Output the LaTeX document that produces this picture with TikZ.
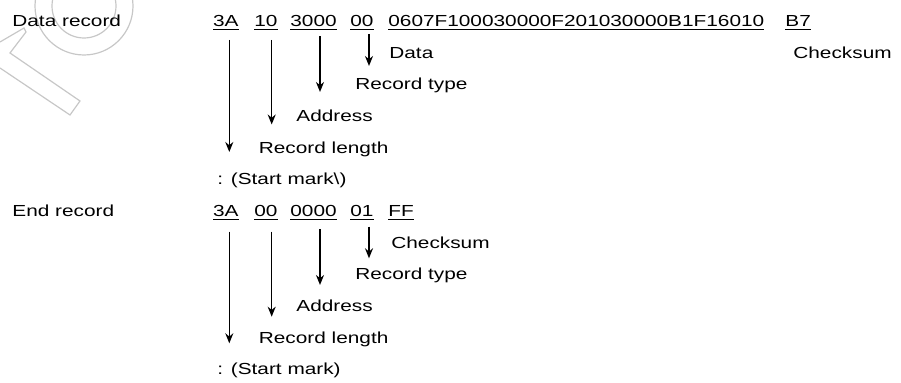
\documentclass[tikz,border=0pt]{standalone}
\usepackage{fontspec}
\setmainfont{Liberation Sans}[FakeStretch=1.3]
\usetikzlibrary{arrows.meta}

\begin{document}
\begin{tikzpicture}[x=0.5pt,y=-0.5pt,
    every node/.style={inner sep=0pt,anchor=base west,font=\fontsize{8}{10}\selectfont},
    arr/.style={line width=0.7pt,-{Stealth[length=5pt,width=4pt]}},
    wmark/.style={draw=black!22,line width=0.6pt}]

    \useasboundingbox (0,0) rectangle (901,383);

    % faint watermark in the corner
    \begin{scope}
        \clip (0,0) rectangle (901,383);
        \draw[wmark] (84,6) circle[radius=49];
        \draw[wmark] (84,6) circle[radius=32];
        \draw[wmark] (0,42) -- (24,28) -- (26,32) -- (10,53) -- (80,101) -- (70,115) -- (0,68);
    \end{scope}

    % data record
    \node (dataRec) at (12,26.5) {Data record};
    \node (d3A) at (212.7,26.5) {\underline{3A}};
    \node (d10) at (254,26.5) {\underline{10}};
    \node (d3000) at (290,26.5) {\underline{3000}};
    \node (d00) at (350,26.5) {\underline{00}};
    \node (dData) at (388,26.5) {\underline{0607F100030000F201030000B1F16010}};
    \node (dB7) at (785,26.5) {\underline{B7}};
    \node (dLblData) at (389,58.2) {Data};
    \node (dLblSum) at (793,58.2) {Checksum};
    \node (dLblType) at (355,89.8) {Record type};
    \node (dLblAddr) at (296,121.5) {Address};
    \node (dLblLen) at (258.5,153.2) {Record length};
    \node (dLblStart) at (217,184.8) {: (Start mark\textbackslash)};

    \coordinate (dTop1) at (229.3,40);
    \coordinate (dTip1) at (229.3,152);
    \coordinate (dTop2) at (271.7,40);
    \coordinate (dTip2) at (271.7,124.5);
    \coordinate (dTop3) at (320,36.5);
    \coordinate (dTip3) at (320,92);
    \coordinate (dTop4) at (369,34);
    \coordinate (dTip4) at (369,66);
    \draw[arr] (dTop1) -- (dTip1);
    \draw[arr] (dTop2) -- (dTip2);
    \draw[arr] (dTop3) -- (dTip3);
    \draw[arr] (dTop4) -- (dTip4);

    % end record
    \node (endRec) at (12,216.5) {End record};
    \node (e3A) at (212.7,216.5) {\underline{3A}};
    \node (e00) at (254,216.5) {\underline{00}};
    \node (e0000) at (290,216.5) {\underline{0000}};
    \node (e01) at (350,216.5) {\underline{01}};
    \node (eFF) at (388,216.5) {\underline{FF}};
    \node (eLblSum) at (391,248.2) {Checksum};
    \node (eLblType) at (355,279.8) {Record type};
    \node (eLblAddr) at (296,311.5) {Address};
    \node (eLblLen) at (258.5,343.2) {Record length};
    \node (eLblStart) at (217,374.8) {: (Start mark)};

    \coordinate (eTop1) at (229.3,231.7);
    \coordinate (eTip1) at (229.3,343.3);
    \coordinate (eTop2) at (271.7,231.7);
    \coordinate (eTip2) at (271.7,316.7);
    \coordinate (eTop3) at (320,229.3);
    \coordinate (eTip3) at (320,285);
    \coordinate (eTop4) at (369,226.7);
    \coordinate (eTip4) at (369,258.3);
    \draw[arr] (eTop1) -- (eTip1);
    \draw[arr] (eTop2) -- (eTip2);
    \draw[arr] (eTop3) -- (eTip3);
    \draw[arr] (eTop4) -- (eTip4);
\end{tikzpicture}
\end{document}
